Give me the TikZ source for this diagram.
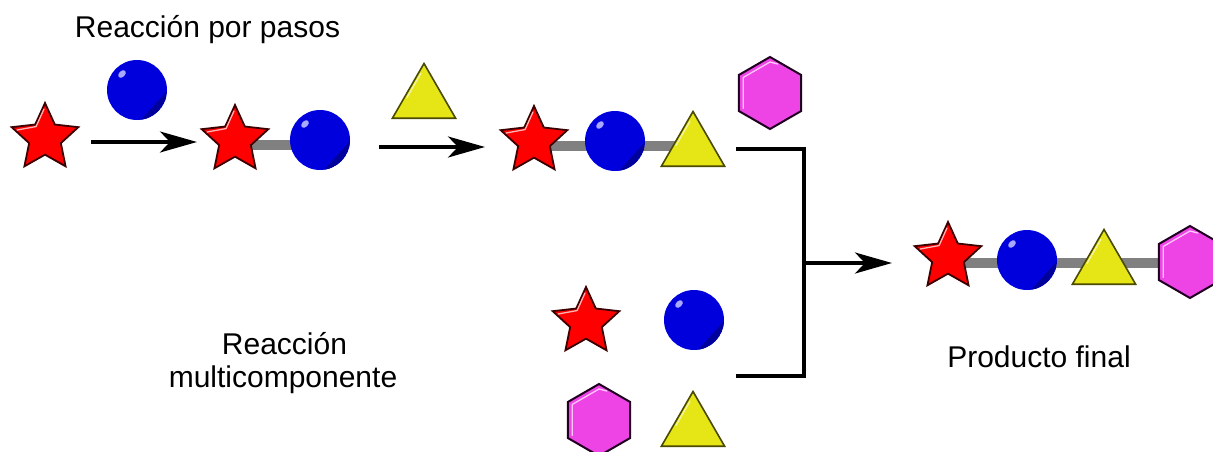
\documentclass[tikz,border=0pt]{standalone}
\usepackage{fontspec}
\setmainfont{Liberation Sans}
\usetikzlibrary{shapes.geometric,arrows.meta,backgrounds,calc}

\definecolor{starred}{HTML}{FF0000}
\definecolor{staredge}{HTML}{3C0000}
\definecolor{starshine}{HTML}{FFB4B4}
\definecolor{ballblue}{HTML}{0000DD}
\definecolor{ballshade}{HTML}{00009C}
\definecolor{ballshine}{HTML}{A8A8FF}
\definecolor{triyellow}{HTML}{E6E617}
\definecolor{triedge}{HTML}{4A4A00}
\definecolor{trishine}{HTML}{F4F4A8}
\definecolor{hexpink}{HTML}{EE44E6}
\definecolor{hexedge}{HTML}{200020}
\definecolor{hexshine}{HTML}{FFC8FA}
\definecolor{linkgray}{HTML}{808080}

\tikzset{
  starunit/.style={star, star points=5, star point ratio=2.1, minimum size=70pt,
    inner sep=0pt, outer sep=0pt, fill=starred, draw=staredge, line width=1.8pt},
  ballunit/.style={circle, minimum size=60pt, inner sep=0pt, outer sep=0pt, fill=ballblue,
    path picture={
      \fill[ballshade] ($(path picture bounding box.center)+(-2:30pt)$)
        arc[start angle=-2, end angle=-82, radius=30pt] -- cycle;
      \fill[ballshine] ($(path picture bounding box.center)+(-15pt,16pt)$)
        ellipse[x radius=4.5pt, y radius=3pt, rotate=45];
    }},
  triunit/.style={regular polygon, regular polygon sides=3, minimum size=73pt,
    inner sep=0pt, outer sep=0pt, fill=triyellow, draw=triedge, line width=1.6pt},
  hexunit/.style={regular polygon, regular polygon sides=6, shape border rotate=30,
    minimum size=72pt, inner sep=0pt, outer sep=0pt, fill=hexpink, draw=hexedge, line width=2pt},
  link/.style={draw=linkgray, line width=10pt},
  reacarrow/.style={line width=3.2pt, -{Stealth[length=37pt, width=21pt, inset=10pt]}},
  joinline/.style={line width=3.4pt, line join=miter},
  caption/.style={font=\fontsize{30pt}{34.5pt}\selectfont, inner sep=0pt},
  starshine/.style={draw=starshine, line width=1.3pt, line cap=round, line join=round},
  trishine/.style={draw=trishine, line width=1.3pt, line cap=round},
  hexshine/.style={draw=hexshine, line width=1.3pt, line cap=round, line join=round},
}

% gloss strokes for stars, triangles and hexagons
\newcommand{\stargloss}[1]{%
  \draw[starshine] ($(#1)+(164:29pt)$) -- ($(#1)+(128:14.5pt)$) -- ($(#1)+(92:29pt)$);}
\newcommand{\trigloss}[1]{%
  \draw[trishine] ($(#1.corner 1)!0.18!(#1.corner 2)+(2.6pt,0)$) -- ($(#1.corner 1)!0.62!(#1.corner 2)+(2.6pt,0)$);}
\newcommand{\hexgloss}[1]{%
  \draw[hexshine] ($(#1)+(75:30pt)$) -- ($(#1)+(90:31pt)$) -- ($(#1)+(150:31pt)$) -- ($(#1)+(210:31pt)$);}

\begin{document}
\begin{tikzpicture}[x=1pt, y=1pt]
  \useasboundingbox (0,0) rectangle (1213,451);
  \clip (0,0) rectangle (1213,451);

  % captions
  \node[caption, anchor=base] (stepwise) at (207.5,413) {Reacción por pasos};
  \node[caption, anchor=base] (mcr1) at (284.5,97) {Reacción};
  \node[caption, anchor=base] (mcr2) at (283,64) {multicomponente};
  \node[caption, anchor=base] (product) at (1039,84) {Producto final};

  % stepwise route
  \node[starunit] (s1) at (45,313) {};
  \node[ballunit] (b1) at (137,361) {};
  \node[starunit] (s2) at (235,311) {};
  \node[ballunit] (b2) at (320,311) {};
  \node[triunit]  (t1) at (424,351) {};
  \node[starunit] (s3) at (534,310) {};
  \node[ballunit] (b3) at (615,310) {};
  \node[triunit]  (t3) at (693,303) {};
  \node[hexunit]  (h1) at (770,358) {};

  % one-pot components
  \node[starunit] (s4) at (586,129) {};
  \node[ballunit] (b4) at (694,131) {};
  \node[hexunit]  (h4) at (599,31) {};
  \node[triunit]  (t4) at (693,23) {};

  % final product
  \node[starunit] (s5) at (948,194) {};
  \node[ballunit] (b5) at (1027,191) {};
  \node[triunit]  (t5) at (1104,185) {};
  \node[hexunit]  (h5) at (1190,189) {};

  % gloss
  \foreach \n in {s1,s2,s3,s4,s5} {\stargloss{\n}}
  \foreach \n in {t1,t3,t4,t5} {\trigloss{\n}}
  \foreach \n in {h1,h4,h5} {\hexgloss{\n}}

  % bonds behind the units
  \coordinate (row2) at (0,306);
  \coordinate (row3) at (0,305);
  \coordinate (row5) at (0,188);
  \begin{pgfonlayer}{background}
    \draw[link] (s2 |- row2) -- (b2 |- row2);
    \draw[link] (s3 |- row3) -- (t3 |- row3);
    \draw[link] (s5 |- row5) -- (h5 |- row5);
  \end{pgfonlayer}

  % reaction arrows
  \coordinate (a1s) at (91,309);
  \coordinate (a1e) at (197,309);
  \coordinate (a2s) at (379,304);
  \coordinate (a2e) at (485,304);
  \draw[reacarrow] (a1s) -- (a1e);
  \draw[reacarrow] (a2s) -- (a2e);

  % joining bracket
  \coordinate (jt) at (736,302);
  \coordinate (jtc) at (804,302);
  \coordinate (jbc) at (804,75);
  \coordinate (jb) at (736,75);
  \coordinate (jm) at (804,188);
  \coordinate (a3e) at (892,188);
  \draw[joinline] (jt) -- (jtc) -- (jbc) -- (jb);
  \draw[reacarrow] (jm) -- (a3e);
\end{tikzpicture}
\end{document}
